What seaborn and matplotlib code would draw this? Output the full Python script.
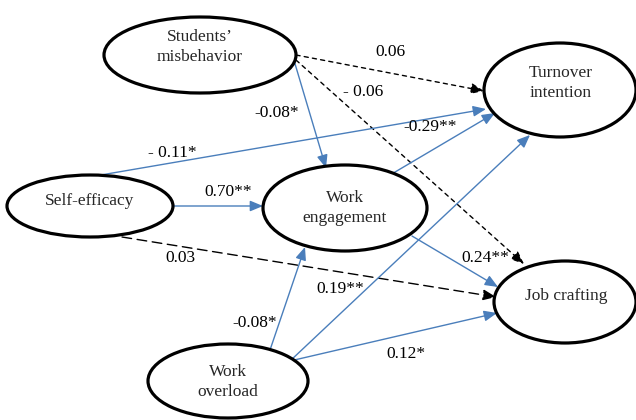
import numpy as np
import matplotlib
matplotlib.use("Agg")
import matplotlib.pyplot as plt
from matplotlib.patches import Ellipse
import seaborn as sns

# constructs and path coefficients
nodes = ["Students’\nmisbehavior", "Turnover\nintention", "Self-efficacy",
         "Work\nengagement", "Job crafting", "Work\noverload"]
edge_from = [0, 0, 0, 2, 2, 3, 2, 3, 5, 5, 5]
edge_to = [1, 4, 3, 1, 3, 1, 4, 4, 3, 1, 4]
coefs = ["0.06", "- 0.06", "-0.08*", "- 0.11*", "0.70**", "-0.29**",
         "0.03", "0.24**", "-0.08*", "0.19**", "0.12*"]
significant = [False, False, True, True, True, True, False, True, True, True, True]

# layout (pixel space, y down)
centers = [(200, 55), (560, 90), (90, 206), (345, 208), (565, 302), (228, 381)]
radii = [(96, 38), (76, 47), (83, 31), (82, 43), (71, 41), (80, 37)]
text_pos = [(200, 47), (561, 83), (90, 201), (345, 208), (566, 296), (228, 382)]
starts = [(296, 55), (296, 60), (293, 57), (95, 176), (173, 206), (390, 175),
          (122, 237), (412, 236), (270, 350), (290, 361), (290, 361)]
ends = [(484, 91), (524, 264), (326, 168), (486, 109), (263, 206), (495, 113),
        (496, 297), (498, 287), (305, 247), (530, 135), (497, 313)]
label_pos = [(390, 52), (363, 92), (277, 113), (172, 153), (228, 192), (430, 127),
             (180, 258), (485, 258), (255, 323), (340, 289), (406, 354)]
long_dash = [6]

sns.set_theme(style="white")
plt.rcParams["font.family"] = ["Liberation Serif", "DejaVu Serif"]

fig = plt.figure(figsize=(6.36, 4.2), dpi=100)
ax = fig.add_axes([0, 0, 1, 1])
ax.set_xlim(0, 636)
ax.set_ylim(420, 0)
ax.axis("off")

blue = "#4a7ebb"
for i in range(len(coefs)):
    if significant[i]:
        color, ls = blue, "-"
    else:
        color = "black"
        ls = (0, (7, 4)) if i in long_dash else (0, (3, 3))
    ax.annotate("", xy=ends[i], xytext=starts[i],
                arrowprops=dict(arrowstyle="-|>,head_length=0.65,head_width=0.27",
                                color=color, lw=1.0, linestyle=ls,
                                shrinkA=0, shrinkB=0))
    ax.text(label_pos[i][0], label_pos[i][1], coefs[i], ha="center", va="center",
            fontsize=12.5, color="black")

for name, (cx, cy), (rx, ry), (tx, ty) in zip(nodes, centers, radii, text_pos):
    ax.add_patch(Ellipse((cx, cy), 2 * rx, 2 * ry, facecolor="white",
                         edgecolor="black", lw=2.3, zorder=3))
    ax.text(tx, ty, name, ha="center", va="center", fontsize=12.5,
            linespacing=1.4, zorder=4)

fig.savefig("out.png", dpi=100, facecolor="white")
